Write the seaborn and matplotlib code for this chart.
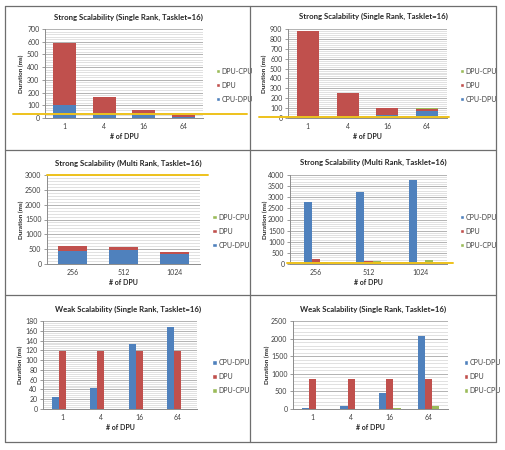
import pandas as pd
import matplotlib.pyplot as plt
import seaborn as sns
from matplotlib.ticker import MultipleLocator, AutoMinorLocator
from matplotlib.lines import Line2D
from matplotlib.patches import Patch

# 1. Data (ms)
single_dpus = ['1', '4', '16', '64']
multi_dpus = ['256', '512', '1024']

# strong scalability, single rank (left, stacked)
ss1_cpu_dpu = [103, 40, 25, 8]
ss1_dpu = [485, 128, 35, 14]
ss1_dpu_cpu = [2, 1, 1, 1]
# strong scalability, single rank (right, stacked)
ss2_cpu_dpu = [24, 22, 30, 75]
ss2_dpu = [856, 233, 70, 20]
ss2_dpu_cpu = [2, 2, 2, 2]
# strong scalability, multi rank (left, stacked)
sm1_cpu_dpu = [440, 485, 350]
sm1_dpu = [165, 85, 40]
sm1_dpu_cpu = [5, 5, 5]
# strong scalability, multi rank (right, grouped)
sm2_cpu_dpu = [2800, 3250, 3780]
sm2_dpu = [230, 130, 80]
sm2_dpu_cpu = [100, 120, 180]
# weak scalability, single rank (grouped)
ws1_cpu_dpu = [24, 43, 133, 168]
ws1_dpu = [119, 119, 119, 119]
ws1_dpu_cpu = [1, 1, 1, 1]
ws2_cpu_dpu = [35, 95, 443, 2075]
ws2_dpu = [850, 850, 850, 850]
ws2_dpu_cpu = [5, 8, 25, 95]

# yellow highlight lines drawn over some charts (y value in ms)
highlight_ss1 = 30
highlight_ss2 = 12
highlight_sm1 = 3000
highlight_sm2 = 60

BLUE, RED, GREEN = '#4f81bd', '#c0504d', '#9bbb59'
YELLOW = '#eec21c'
W, H = 505, 450

sns.set_theme(style='white')
plt.rcParams['font.family'] = ['Liberation Sans Narrow', 'Lato', 'DejaVu Sans']

fig = plt.figure(figsize=(W / 100, H / 100), dpi=100)
fig.patch.set_facecolor('white')


def px_axes(left, top, right, bottom):
    return fig.add_axes([left / W, 1 - bottom / H, (right - left) / W, (bottom - top) / H])


def style(ax, ymax, step, ylab_x):
    ax.set_ylim(0, ymax)
    ax.yaxis.set_major_locator(MultipleLocator(step))
    ax.yaxis.set_minor_locator(AutoMinorLocator(5))
    ax.grid(axis='y', which='major', color='#a6a6a6', lw=0.6)
    ax.grid(axis='y', which='minor', color='#d4d4d4', lw=0.5)
    ax.set_axisbelow(True)
    for s in ['top', 'right']:
        ax.spines[s].set_visible(False)
    for s in ['left', 'bottom']:
        ax.spines[s].set_color('#8c8c8c')
        ax.spines[s].set_linewidth(0.7)
    ax.tick_params(axis='y', which='major', left=True, length=2, width=0.6,
                   color='#8c8c8c', labelsize=5, labelcolor='#404040', pad=2)
    ax.tick_params(axis='y', which='minor', left=False)
    ax.tick_params(axis='x', length=0, labelsize=5, labelcolor='#404040', pad=3.5)
    ax.set_xlabel('# of DPU', fontsize=5, fontweight='bold', color='#262626', labelpad=2)
    ax.set_ylabel('Duration (ms)', fontsize=4.6, fontweight='bold', color='#262626')
    ax.yaxis.set_label_coords(ylab_x, 0.5)


def legend(ax, order, x):
    colors = {'CPU-DPU': BLUE, 'DPU': RED, 'DPU-CPU': GREEN}
    handles = [Patch(facecolor=colors[k], label=k) for k in order]
    ax.legend(handles=handles, loc='center left', bbox_to_anchor=(x, 0.37),
              frameon=False, fontsize=5, handlelength=0.6, handleheight=0.6,
              handletextpad=0.3, labelspacing=1.0, labelcolor='#404040')


def stacked(ax, cats, cpu_dpu, dpu, dpu_cpu, width):
    df = pd.DataFrame({'n': cats, 'CPU-DPU': cpu_dpu, 'DPU': dpu, 'DPU-CPU': dpu_cpu})
    df['mid'] = df['CPU-DPU'] + df['DPU']
    df['top'] = df['mid'] + df['DPU-CPU']
    for col, c in [('top', GREEN), ('mid', RED), ('CPU-DPU', BLUE)]:
        sns.barplot(data=df, x='n', y=col, color=c, width=width, saturation=1,
                    linewidth=0, ax=ax)


def grouped(ax, cats, cpu_dpu, dpu, dpu_cpu, width):
    df = pd.DataFrame({'n': cats, 'CPU-DPU': cpu_dpu, 'DPU': dpu, 'DPU-CPU': dpu_cpu})
    long = df.melt(id_vars='n', var_name='kind', value_name='ms')
    sns.barplot(data=long, x='n', y='ms', hue='kind', palette=[BLUE, RED, GREEN],
                width=width, saturation=1, linewidth=0, legend=False, ax=ax)


def highlight(ax, y, x0, x1):
    ax.axhline(y, xmin=x0, xmax=x1, color=YELLOW, lw=1.4, clip_on=False, zorder=5)


def title(text, cx, cy):
    fig.text(cx / W, 1 - cy / H, text, ha='center', va='center',
             fontsize=5.6, fontweight='bold', color='#262626')


# 2. Row 1 - strong scalability, single rank
ax1 = px_axes(45, 29, 203, 118)
stacked(ax1, single_dpus, ss1_cpu_dpu, ss1_dpu, ss1_dpu_cpu, 0.58)
style(ax1, 700, 100, -0.13)
legend(ax1, ['DPU-CPU', 'DPU', 'CPU-DPU'], 1.04)
highlight(ax1, highlight_ss1, -0.2, 1.28)
title('Strong Scalability (Single Rank, Tasklet=16)', 128, 17)

ax2 = px_axes(288, 29, 447, 118)
stacked(ax2, single_dpus, ss2_cpu_dpu, ss2_dpu, ss2_dpu_cpu, 0.55)
style(ax2, 900, 100, -0.13)
legend(ax2, ['DPU-CPU', 'DPU', 'CPU-DPU'], 1.04)
highlight(ax2, highlight_ss2, -0.18, 1.01)
title('Strong Scalability (Single Rank, Tasklet=16)', 373, 16)

# 3. Row 2 - strong scalability, multi rank
ax3 = px_axes(47, 175, 200, 264)
stacked(ax3, multi_dpus, sm1_cpu_dpu, sm1_dpu, sm1_dpu_cpu, 0.57)
style(ax3, 3000, 500, -0.15)
legend(ax3, ['DPU-CPU', 'DPU', 'CPU-DPU'], 1.04)
highlight(ax3, highlight_sm1, 0.0, 1.05)
title('Strong Scalability (Multi Rank, Tasklet=16)', 128, 163)

ax4 = px_axes(290, 175, 447, 264)
grouped(ax4, multi_dpus, sm2_cpu_dpu, sm2_dpu, sm2_dpu_cpu, 0.46)
style(ax4, 4000, 500, -0.14)
legend(ax4, ['CPU-DPU', 'DPU', 'DPU-CPU'], 1.04)
highlight(ax4, highlight_sm2, -0.02, 1.04)
title('Strong Scalability (Multi Rank, Tasklet=16)', 373, 162)

# 4. Row 3 - weak scalability, single rank
ax5 = px_axes(43, 321, 197, 409)
grouped(ax5, single_dpus, ws1_cpu_dpu, ws1_dpu, ws1_dpu_cpu, 0.55)
style(ax5, 180, 20, -0.13)
legend(ax5, ['CPU-DPU', 'DPU', 'DPU-CPU'], 1.06)
title('Weak Scalability (Single Rank, Tasklet=16)', 128, 309)

ax6 = px_axes(293, 321, 448, 409)
grouped(ax6, single_dpus, ws2_cpu_dpu, ws2_dpu, ws2_dpu_cpu, 0.55)
style(ax6, 2500, 500, -0.15)
legend(ax6, ['CPU-DPU', 'DPU', 'DPU-CPU'], 1.06)
title('Weak Scalability (Single Rank, Tasklet=16)', 373, 309)

# 5. Table borders around the charts
xs = [5, 250, 496]
ys = [6, 150, 295, 442]
for x in xs:
    fig.add_artist(Line2D([x / W, x / W], [1 - ys[0] / H, 1 - ys[-1] / H],
                          transform=fig.transFigure, color='#6e6e6e', lw=0.9))
for y in ys:
    fig.add_artist(Line2D([xs[0] / W, xs[-1] / W], [1 - y / H, 1 - y / H],
                          transform=fig.transFigure, color='#6e6e6e', lw=0.9))

fig.savefig('out.png', dpi=100)
print("Figure saved to out.png")
